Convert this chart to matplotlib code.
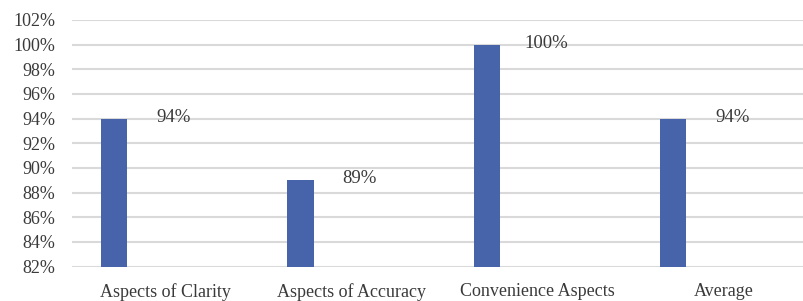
#!/usr/bin/env python3
"""Bar chart of aspect scores (percent) with value labels."""

import matplotlib
matplotlib.use("Agg")
import matplotlib.pyplot as plt
from matplotlib.ticker import FuncFormatter

categories = ["Aspects of Clarity", "Aspects of Accuracy", "Convenience Aspects", "Average"]
scores = [94, 89, 100, 94]
score_labels = ["94%", "89%", "100%", "94%"]
y_ticks = list(range(82, 103, 2))

BAR_COLOR = "#4763AA"
GRID_COLOR = "#D9D9D9"
TEXT_COLOR = "#3A3A3A"

plt.rcParams["font.family"] = ["Liberation Serif", "DejaVu Serif"]

fig = plt.figure(figsize=(8.04, 3.01), dpi=100)
ax = fig.add_axes([0.0896, 0.1146, 0.927, 0.819])

x = list(range(len(categories)))
bar_x = [i - 0.274 for i in x]
ax.bar(bar_x, [s - 82 for s in scores], bottom=82, width=0.14,
       color=BAR_COLOR, zorder=3)

for i, (s, lab) in enumerate(zip(scores, score_labels)):
    ax.text(i + 0.045, s + 0.1, lab, ha="center", va="center",
            fontsize=13.5, color=TEXT_COLOR, zorder=4)

ax.set_xlim(-0.5, len(categories) - 0.5)
ax.set_ylim(82, 102)
ax.set_yticks(y_ticks)
ax.yaxis.set_major_formatter(FuncFormatter(lambda v, _: f"{v:.0f}%"))
ax.set_xticks(x)
ax.set_xticklabels(categories)

ax.grid(axis="y", color=GRID_COLOR, linewidth=1.5, zorder=0)
ax.set_axisbelow(True)
for side in ax.spines.values():
    side.set_visible(False)
ax.tick_params(axis="both", length=0, labelsize=13, colors=TEXT_COLOR)
ax.tick_params(axis="y", pad=12)
ax.tick_params(axis="x", pad=12)

fig.savefig("out.png", dpi=100)
